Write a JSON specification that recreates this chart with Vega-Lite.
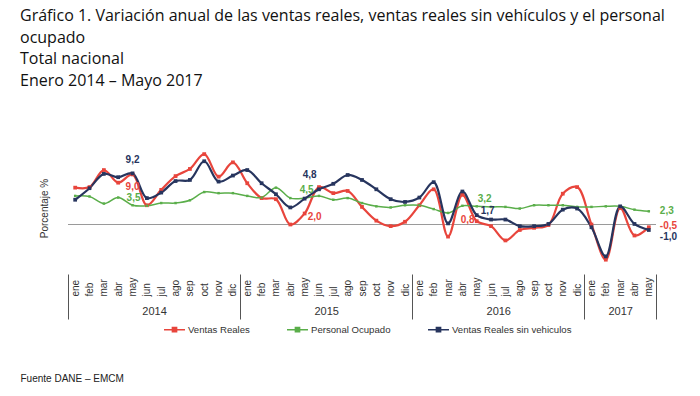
{
 "$schema": "https://vega.github.io/schema/vega-lite/v6.json",
 "width": 588, "height": 132,
 "autosize": {"type": "none"},
 "padding": {"left": 68, "top": 142, "right": 44, "bottom": 122},
 "background": "white",
 "config": {"view": {"stroke": null}, "font": "Liberation Sans",
   "axisY": {"labels": false, "ticks": false, "domain": false, "grid": false, "titleFont": "Liberation Sans", "titleFontSize": 10, "titleFontWeight": "normal", "titleColor": "#333", "titlePadding": 19}},
 "title": {"text": ["Gráfico 1. Variación anual de las ventas reales, ventas reales sin vehículos y el personal", "ocupado", "Total nacional", "Enero 2014 – Mayo 2017"], "anchor": "start", "frame": "group", "dx": -48, "offset": 53, "font": "Open Sans", "fontSize": 16, "fontWeight": "normal", "color": "#111", "lineHeight": 21.7},
 "data": {"values": [
  {"t":0,"s":"Ventas Reales","v":6.7},{"t":1,"s":"Ventas Reales","v":6.8},{"t":2,"s":"Ventas Reales","v":9.9},{"t":3,"s":"Ventas Reales","v":7.6},{"t":4,"s":"Ventas Reales","v":9.1,"lab":"9,0"},{"t":5,"s":"Ventas Reales","v":3.5},{"t":6,"s":"Ventas Reales","v":6.3},{"t":7,"s":"Ventas Reales","v":8.8},{"t":8,"s":"Ventas Reales","v":10.1},{"t":9,"s":"Ventas Reales","v":12.8},{"t":10,"s":"Ventas Reales","v":8.7},{"t":11,"s":"Ventas Reales","v":11.3},
  {"t":12,"s":"Ventas Reales","v":7.5},{"t":13,"s":"Ventas Reales","v":4.8},{"t":14,"s":"Ventas Reales","v":4.6},{"t":15,"s":"Ventas Reales","v":0.0},{"t":16,"s":"Ventas Reales","v":2.0,"lab":"2,0"},{"t":17,"s":"Ventas Reales","v":6.8},{"t":18,"s":"Ventas Reales","v":5.7},{"t":19,"s":"Ventas Reales","v":6.1},{"t":20,"s":"Ventas Reales","v":3.2},{"t":21,"s":"Ventas Reales","v":0.7},{"t":22,"s":"Ventas Reales","v":-0.3},{"t":23,"s":"Ventas Reales","v":0.5},
  {"t":24,"s":"Ventas Reales","v":3.5},{"t":25,"s":"Ventas Reales","v":6.4},{"t":26,"s":"Ventas Reales","v":-2.2},{"t":27,"s":"Ventas Reales","v":5.4},{"t":28,"s":"Ventas Reales","v":0.6,"lab":"0,8"},{"t":29,"s":"Ventas Reales","v":-0.3},{"t":30,"s":"Ventas Reales","v":-2.9},{"t":31,"s":"Ventas Reales","v":-1.0},{"t":32,"s":"Ventas Reales","v":-0.6},{"t":33,"s":"Ventas Reales","v":-0.1},{"t":34,"s":"Ventas Reales","v":5.6},{"t":35,"s":"Ventas Reales","v":6.8},
  {"t":36,"s":"Ventas Reales","v":0.0},{"t":37,"s":"Ventas Reales","v":-6.4},{"t":38,"s":"Ventas Reales","v":3.0},{"t":39,"s":"Ventas Reales","v":-2.0},{"t":40,"s":"Ventas Reales","v":-0.5,"lab":"-0,5"},
  {"t":0,"s":"Personal Ocupado","v":5.2},{"t":1,"s":"Personal Ocupado","v":5.1},{"t":2,"s":"Personal Ocupado","v":3.8},{"t":3,"s":"Personal Ocupado","v":4.9},{"t":4,"s":"Personal Ocupado","v":3.5,"lab":"3,5"},{"t":5,"s":"Personal Ocupado","v":3.4},{"t":6,"s":"Personal Ocupado","v":3.9},{"t":7,"s":"Personal Ocupado","v":3.9},{"t":8,"s":"Personal Ocupado","v":4.4},{"t":9,"s":"Personal Ocupado","v":5.9},{"t":10,"s":"Personal Ocupado","v":5.7},{"t":11,"s":"Personal Ocupado","v":5.7},
  {"t":12,"s":"Personal Ocupado","v":5.2},{"t":13,"s":"Personal Ocupado","v":4.9},{"t":14,"s":"Personal Ocupado","v":6.7},{"t":15,"s":"Personal Ocupado","v":4.8},{"t":16,"s":"Personal Ocupado","v":4.8,"lab":"4,5"},{"t":17,"s":"Personal Ocupado","v":5.2},{"t":18,"s":"Personal Ocupado","v":4.5},{"t":19,"s":"Personal Ocupado","v":4.8},{"t":20,"s":"Personal Ocupado","v":3.9},{"t":21,"s":"Personal Ocupado","v":3.3},{"t":22,"s":"Personal Ocupado","v":3.1},{"t":23,"s":"Personal Ocupado","v":3.5},
  {"t":24,"s":"Personal Ocupado","v":3.5},{"t":25,"s":"Personal Ocupado","v":2.8},{"t":26,"s":"Personal Ocupado","v":2.1},{"t":27,"s":"Personal Ocupado","v":3.4},{"t":28,"s":"Personal Ocupado","v":3.3,"lab":"3,2"},{"t":29,"s":"Personal Ocupado","v":3.2},{"t":30,"s":"Personal Ocupado","v":3.2},{"t":31,"s":"Personal Ocupado","v":2.9},{"t":32,"s":"Personal Ocupado","v":3.5},{"t":33,"s":"Personal Ocupado","v":3.5},{"t":34,"s":"Personal Ocupado","v":3.5},{"t":35,"s":"Personal Ocupado","v":3.2},
  {"t":36,"s":"Personal Ocupado","v":3.2},{"t":37,"s":"Personal Ocupado","v":3.3},{"t":38,"s":"Personal Ocupado","v":3.3},{"t":39,"s":"Personal Ocupado","v":2.7},{"t":40,"s":"Personal Ocupado","v":2.4,"lab":"2,3"},
  {"t":0,"s":"Ventas Reales sin  vehiculos","v":4.5},{"t":1,"s":"Ventas Reales sin  vehiculos","v":6.6},{"t":2,"s":"Ventas Reales sin  vehiculos","v":9.2},{"t":3,"s":"Ventas Reales sin  vehiculos","v":8.6},{"t":4,"s":"Ventas Reales sin  vehiculos","v":9.3,"lab":"9,2"},{"t":5,"s":"Ventas Reales sin  vehiculos","v":4.8},{"t":6,"s":"Ventas Reales sin  vehiculos","v":5.8},{"t":7,"s":"Ventas Reales sin  vehiculos","v":7.9},{"t":8,"s":"Ventas Reales sin  vehiculos","v":8.1},{"t":9,"s":"Ventas Reales sin  vehiculos","v":11.5},{"t":10,"s":"Ventas Reales sin  vehiculos","v":7.8},{"t":11,"s":"Ventas Reales sin  vehiculos","v":8.9},
  {"t":12,"s":"Ventas Reales sin  vehiculos","v":9.9},{"t":13,"s":"Ventas Reales sin  vehiculos","v":7.5},{"t":14,"s":"Ventas Reales sin  vehiculos","v":5.5},{"t":15,"s":"Ventas Reales sin  vehiculos","v":3.1},{"t":16,"s":"Ventas Reales sin  vehiculos","v":4.7,"lab":"4,8"},{"t":17,"s":"Ventas Reales sin  vehiculos","v":6.4},{"t":18,"s":"Ventas Reales sin  vehiculos","v":7.4},{"t":19,"s":"Ventas Reales sin  vehiculos","v":9.0},{"t":20,"s":"Ventas Reales sin  vehiculos","v":8.1},{"t":21,"s":"Ventas Reales sin  vehiculos","v":6.4},{"t":22,"s":"Ventas Reales sin  vehiculos","v":4.6},{"t":23,"s":"Ventas Reales sin  vehiculos","v":4.1},
  {"t":24,"s":"Ventas Reales sin  vehiculos","v":4.9},{"t":25,"s":"Ventas Reales sin  vehiculos","v":7.7},{"t":26,"s":"Ventas Reales sin  vehiculos","v":0.2},{"t":27,"s":"Ventas Reales sin  vehiculos","v":6.0},{"t":28,"s":"Ventas Reales sin  vehiculos","v":1.7,"lab":"1,7"},{"t":29,"s":"Ventas Reales sin  vehiculos","v":0.9},{"t":30,"s":"Ventas Reales sin  vehiculos","v":0.9},{"t":31,"s":"Ventas Reales sin  vehiculos","v":-0.3},{"t":32,"s":"Ventas Reales sin  vehiculos","v":-0.3},{"t":33,"s":"Ventas Reales sin  vehiculos","v":0.1},{"t":34,"s":"Ventas Reales sin  vehiculos","v":2.7},{"t":35,"s":"Ventas Reales sin  vehiculos","v":2.9},
  {"t":36,"s":"Ventas Reales sin  vehiculos","v":-0.5},{"t":37,"s":"Ventas Reales sin  vehiculos","v":-5.8},{"t":38,"s":"Ventas Reales sin  vehiculos","v":3.3},{"t":39,"s":"Ventas Reales sin  vehiculos","v":0.1},{"t":40,"s":"Ventas Reales sin  vehiculos","v":-1.0,"lab":"-1,0"}
 ]},
 "layer": [
  {"data": {"values": [{}]}, "mark": {"type": "rule", "color": "#9a9a9a", "strokeWidth": 1}, "encoding": {"y": {"datum": 0, "type": "quantitative", "title": "Porcentaje %", "scale": {"domain": [-9, 15], "nice": false, "zero": false}}}},
  {"mark": {"type": "line", "interpolate": "catmull-rom"},
   "encoding": {
    "x": {"field": "t", "type": "quantitative", "scale": {"domain": [-0.5, 40.5], "nice": false, "zero": false},
      "axis": {"orient": "bottom", "values": [0,1,2,3,4,5,6,7,8,9,10,11,12,13,14,15,16,17,18,19,20,21,22,23,24,25,26,27,28,29,30,31,32,33,34,35,36,37,38,39,40],
        "labelExpr": "['ene','feb','mar','abr','may','jun','jul','ago','sep','oct','nov','dic'][datum.value % 12]",
        "labelAngle": -90, "labelAlign": "left", "labelBaseline": "middle", "labelPadding": 22, "ticks": false, "domain": false, "grid": false, "title": null,
        "labelFont": "Liberation Sans", "labelFontSize": 10, "labelColor": "#333", "labelOverlap": false, "labelFlush": false, "labelBound": false}},
    "y": {"field": "v", "type": "quantitative", "title": "Porcentaje %", "scale": {"domain": [-9, 15], "nice": false, "zero": false}},
    "color": {"field": "s", "type": "nominal", "scale": {"domain": ["Ventas Reales", "Personal Ocupado", "Ventas Reales sin  vehiculos"], "range": ["#e8453c", "#5aae4a", "#27355e"]},
      "legend": {"orient": "none", "legendX": 95, "legendY": 176, "direction": "horizontal", "title": null,
        "symbolType": "M-1,0L1,0M-0.2,-0.2L0.2,-0.2L0.2,0.2L-0.2,0.2Z", "symbolSize": 440, "symbolStrokeWidth": 1.5,
        "labelFont": "Liberation Sans", "labelFontSize": 9.6, "labelColor": "#333", "columnPadding": 34, "labelOffset": 2,
        "encode": {"symbols": {"update": {"fill": {"scale": "color", "field": "value"}, "stroke": {"scale": "color", "field": "value"}, "strokeWidth": {"value": 1.5}, "opacity": {"value": 1}}}}}},
    "strokeWidth": {"condition": {"test": "datum.s === 'Personal Ocupado'", "value": 1.5}, "value": 2.2}
   }},
  {"transform": [{"filter": "datum.s === 'Ventas Reales'"}], "mark": {"type": "point", "shape": "square", "filled": true, "opacity": 1, "color": "#e8453c", "size": 14},
   "encoding": {
    "x": {"field": "t", "type": "quantitative",
      "axis": {"orient": "bottom", "values": [5.5, 17.5, 29.5, 38], "labelExpr": "datum.value < 12 ? '2014' : datum.value < 24 ? '2015' : datum.value < 36 ? '2016' : '2017'",
        "ticks": false, "domain": false, "grid": false, "title": null, "labelPadding": 31, "labelAngle": 0, "labelFont": "Liberation Sans", "labelFontSize": 11, "labelColor": "#333", "labelOverlap": false, "labelFlush": false}},
    "y": {"field": "v", "type": "quantitative", "title": "Porcentaje %"}
   }},
  {"transform": [{"filter": "datum.s === 'Personal Ocupado'"}], "mark": {"type": "point", "shape": "square", "filled": true, "opacity": 1, "color": "#5aae4a", "size": 6},
   "encoding": {"x": {"field": "t", "type": "quantitative", "axis": null}, "y": {"field": "v", "type": "quantitative", "title": "Porcentaje %"}}},
  {"transform": [{"filter": "datum.s === 'Ventas Reales sin  vehiculos'"}], "mark": {"type": "point", "shape": "square", "filled": true, "opacity": 1, "color": "#27355e", "size": 14},
   "encoding": {"x": {"field": "t", "type": "quantitative", "axis": null}, "y": {"field": "v", "type": "quantitative", "title": "Porcentaje %"}}},
  {"transform": [{"filter": "datum.lab === '9,2'"}], "mark": {"type": "text", "fontSize": 10, "fontWeight": "bold", "color": "#27355e", "dx": 0, "dy": -13},
   "encoding": {"x": {"field": "t", "type": "quantitative",
      "axis": {"orient": "bottom", "values": [-0.5, 11.5, 23.5, 35.5, 40.5], "labels": false, "ticks": true, "tickSize": 45, "tickColor": "#555", "tickWidth": 1, "domain": false, "grid": false,
        "title": "Fuente DANE – EMCM", "titleAnchor": "start", "titleX": -48, "titleY": 104, "titleBaseline": "middle", "titleFont": "Liberation Sans", "titleFontSize": 10, "titleFontWeight": "normal", "titleColor": "#222"}},
    "y": {"field": "v", "type": "quantitative", "title": "Porcentaje %"}, "text": {"field": "lab"}}},
  {"transform": [{"filter": "datum.lab === '9,0'"}], "mark": {"type": "text", "fontSize": 10, "fontWeight": "bold", "color": "#e8453c", "dx": 0, "dy": 13},
   "encoding": {"x": {"field": "t", "type": "quantitative", "axis": null}, "y": {"field": "v", "type": "quantitative", "title": "Porcentaje %"}, "text": {"field": "lab"}}},
  {"transform": [{"filter": "datum.lab === '3,5'"}], "mark": {"type": "text", "fontSize": 10, "fontWeight": "bold", "color": "#5aae4a", "dx": 1, "dy": -7.5},
   "encoding": {"x": {"field": "t", "type": "quantitative", "axis": null}, "y": {"field": "v", "type": "quantitative", "title": "Porcentaje %"}, "text": {"field": "lab"}}},
  {"transform": [{"filter": "datum.lab === '4,8'"}], "mark": {"type": "text", "fontSize": 10, "fontWeight": "bold", "color": "#27355e", "dx": 5, "dy": -24},
   "encoding": {"x": {"field": "t", "type": "quantitative", "axis": null}, "y": {"field": "v", "type": "quantitative", "title": "Porcentaje %"}, "text": {"field": "lab"}}},
  {"transform": [{"filter": "datum.lab === '4,5'"}], "mark": {"type": "text", "fontSize": 10, "fontWeight": "bold", "color": "#5aae4a", "dx": 2, "dy": -8},
   "encoding": {"x": {"field": "t", "type": "quantitative", "axis": null}, "y": {"field": "v", "type": "quantitative", "title": "Porcentaje %"}, "text": {"field": "lab"}}},
  {"transform": [{"filter": "datum.lab === '2,0'"}], "mark": {"type": "text", "fontSize": 10, "fontWeight": "bold", "color": "#e8453c", "dx": 10, "dy": 3},
   "encoding": {"x": {"field": "t", "type": "quantitative", "axis": null}, "y": {"field": "v", "type": "quantitative", "title": "Porcentaje %"}, "text": {"field": "lab"}}},
  {"transform": [{"filter": "datum.lab === '3,2'"}], "mark": {"type": "text", "fontSize": 10, "fontWeight": "bold", "color": "#5aae4a", "dx": 8, "dy": -7.5},
   "encoding": {"x": {"field": "t", "type": "quantitative", "axis": null}, "y": {"field": "v", "type": "quantitative", "title": "Porcentaje %"}, "text": {"field": "lab"}}},
  {"transform": [{"filter": "datum.lab === '1,7'"}], "mark": {"type": "text", "fontSize": 10, "fontWeight": "bold", "color": "#27355e", "dx": 11, "dy": -4.5},
   "encoding": {"x": {"field": "t", "type": "quantitative", "axis": null}, "y": {"field": "v", "type": "quantitative", "title": "Porcentaje %"}, "text": {"field": "lab"}}},
  {"transform": [{"filter": "datum.lab === '0,8'"}], "mark": {"type": "text", "fontSize": 10, "fontWeight": "bold", "color": "#e8453c", "dx": -9, "dy": -1},
   "encoding": {"x": {"field": "t", "type": "quantitative", "axis": null}, "y": {"field": "v", "type": "quantitative", "title": "Porcentaje %"}, "text": {"field": "lab"}}},
  {"transform": [{"filter": "datum.lab === '2,3'"}], "mark": {"type": "text", "fontSize": 10, "fontWeight": "bold", "color": "#5aae4a", "align": "left", "dx": 11, "dy": 0},
   "encoding": {"x": {"field": "t", "type": "quantitative", "axis": null}, "y": {"field": "v", "type": "quantitative", "title": "Porcentaje %"}, "text": {"field": "lab"}}},
  {"transform": [{"filter": "datum.lab === '-0,5'"}], "mark": {"type": "text", "fontSize": 10, "fontWeight": "bold", "color": "#e8453c", "align": "left", "dx": 11, "dy": -1},
   "encoding": {"x": {"field": "t", "type": "quantitative", "axis": null}, "y": {"field": "v", "type": "quantitative", "title": "Porcentaje %"}, "text": {"field": "lab"}}},
  {"transform": [{"filter": "datum.lab === '-1,0'"}], "mark": {"type": "text", "fontSize": 10, "fontWeight": "bold", "color": "#27355e", "align": "left", "dx": 11, "dy": 7},
   "encoding": {"x": {"field": "t", "type": "quantitative", "axis": null}, "y": {"field": "v", "type": "quantitative", "title": "Porcentaje %"}, "text": {"field": "lab"}}}
 ],
 "resolve": {"axis": {"x": "independent"}}
}
